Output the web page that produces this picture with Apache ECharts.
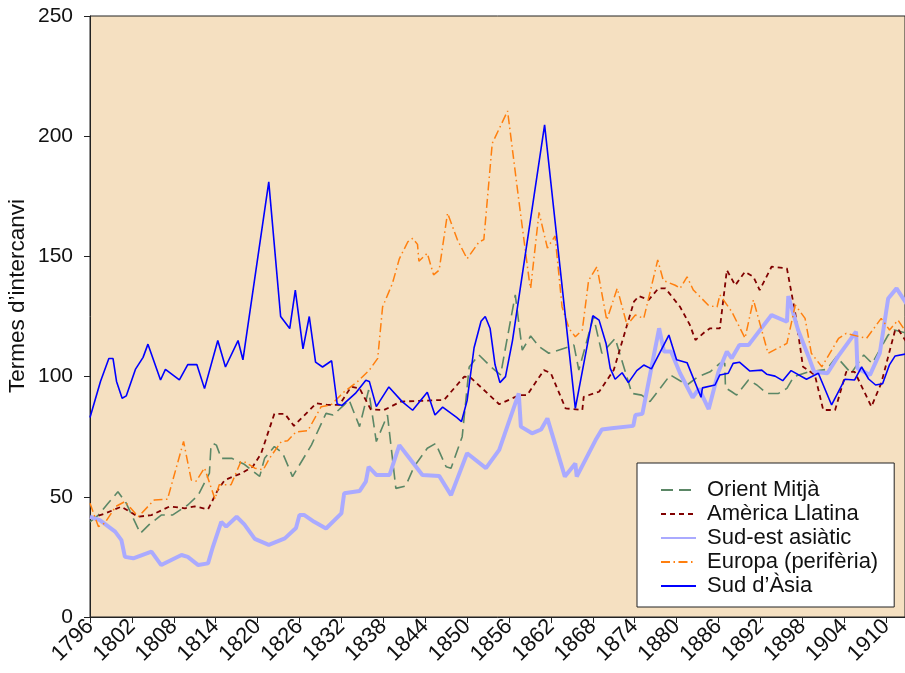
<!DOCTYPE html>
<html>
<head>
<meta charset="utf-8">
<script src="https://cdn.jsdelivr.net/npm/echarts@6/dist/echarts.min.js"></script>
<style>
html,body{margin:0;padding:0;background:#fff;}
#c{width:905px;height:673px;}
</style>
</head>
<body>
<div id="c"></div>
<script>
// ---------- DATA ----------
const xTicks = [1796,1802,1808,1814,1820,1826,1832,1838,1844,1850,1856,1862,1868,1874,1880,1886,1892,1898,1904,1910];
const yTicks = [0,50,100,150,200,250];
const yTitle = "Termes d’intercanvi";
const seriesNames = ["Orient Mitjà","Amèrica Llatina","Sud-est asiàtic","Europa (perifèria)","Sud d’Àsia"];

const orientYears = [1796,1797.2,1798.5,1800,1801.2,1803.2,1804.5,1806.2,1807.8,1810,1811.5,1813.1,1813.3,1813.6,1814.1,1814.8,1816.3,1818.1,1820.3,1821,1822.4,1823.6,1825,1827.7,1829.8,1830.8,1832.4,1833.1,1834.6,1835.9,1837,1838.6,1839.8,1841.2,1842.4,1844.3,1845.5,1847,1847.7,1849.3,1850.3,1851.7,1853.4,1854.8,1855.5,1856.9,1857.9,1859.1,1860.3,1861.7,1865.3,1866,1868.1,1869.3,1871.2,1873.6,1875,1876.2,1879.1,1881.5,1883.1,1884.8,1886.2,1886.9,1887,1887.9,1888.6,1890.3,1891.5,1892.9,1894.6,1895.8,1896.8,1898.9,1901.5,1902.9,1905,1906.8,1908,1910.3,1911.2,1913];
const orientVals  = [39.6,42.4,47,52.1,47.3,34.8,38.5,42.4,42.4,46.6,50.7,59.8,70,72.2,71.5,66,66,63.5,58.5,66,70.9,68.1,58.4,71.5,84.7,84,88.2,90.3,79.2,94.4,73,84,53.5,54.5,62.5,70.2,72.2,62.5,61.9,75,104,109,104.1,100.7,112,134,111,116.9,112.5,109.7,113.1,102.7,124.9,109.7,115.9,93,92.3,89.6,100.7,96.5,100,102,105.5,105.5,95.3,93.7,92.3,98.6,96.5,93,93,95.1,100,102,103,108.3,101.4,109,105.5,117.3,119.4,118];

const latamYears = [1796,1798.1,1800.5,1802.9,1804.8,1807.4,1809.6,1811,1812.9,1814.3,1815.3,1817.7,1819.3,1820.5,1822.4,1823.9,1825.2,1828.4,1830,1831.7,1833.4,1834.6,1836.2,1838.1,1840.5,1846.7,1849.6,1850.5,1854.6,1857.5,1858.6,1861,1862,1864.1,1866.5,1866.7,1868.9,1871,1873.9,1874.6,1876,1877.4,1878.4,1880.5,1881.9,1882.7,1884.1,1884.8,1886.2,1887.2,1888.4,1889.8,1891,1891.9,1893.6,1895.8,1897,1898.1,1899.8,1901,1902.7,1904.3,1905.5,1907.9,1909.3,1911.3,1911.8,1913];
const latamVals  = [41,43,45.9,41.7,42.4,46,45.2,46,44.8,52.8,57,59.8,62.5,68,84.5,84.5,79.5,88.9,88.2,88.2,95.8,95.1,86.4,86.1,89.6,90.3,100,99.6,88.5,92.3,92.3,102.7,101.4,86.8,86.1,91.6,93.7,102.7,131.2,133.5,131.9,136.7,136.7,129,121.5,115.2,118.7,120.1,120.1,144.3,138,143.6,141.5,136,145.7,145,126.3,104.1,100.7,86.1,86.1,102,102,87.5,97.2,119.4,119.4,114];

const seAsiaYears = [1796,1797.4,1799.6,1800.5,1801,1802.2,1804.8,1806.2,1809.1,1810,1811.5,1812.9,1813.6,1814.8,1815.5,1817,1818.1,1819.6,1821.6,1823.9,1825.5,1826,1826.7,1828.1,1829.8,1832,1832.4,1834.6,1835.5,1835.9,1837,1838.9,1840.3,1841.5,1843.6,1846,1847.7,1850,1852.7,1854.6,1857.4,1857.7,1859.3,1860.6,1861.5,1864,1865.5,1865.7,1868.4,1869.3,1870.7,1873.8,1874.1,1875.1,1877.5,1878.2,1879.2,1880.5,1882.3,1883.2,1884.6,1886,1887.2,1887.9,1889,1890.3,1893.6,1895.8,1896,1897.4,1898.9,1899.7,1901.6,1903.1,1905.7,1905.9,1907.7,1909.1,1910.3,1911.5,1913];
const seAsiaVals  = [41.7,40.3,35.5,32,25,24.4,27.2,21.6,25.8,25,21.6,22.3,29.2,39.6,37.6,41.7,38.5,32.5,30,32.7,37,42.4,42.4,39.6,36.8,43.1,51.5,52.4,56.3,62.5,59.1,59.1,71.5,67,59.1,58.7,50.7,68.1,61.9,69.5,93,79.2,76.4,78,82.6,58.4,63.9,58.4,73.6,78,78.5,79.5,84,84.5,120.1,110.4,110.4,101.4,91.3,95,86.5,102,110.4,107.6,113.1,113.1,125.6,122.8,133.5,119.4,108.3,102,101.4,108.3,118.7,103.5,100.7,109.7,132.5,136.7,130];

const europeYears = [1796,1797.2,1798.1,1799.7,1801,1802.9,1805.2,1807.1,1809.4,1810.5,1811.2,1812.4,1813.9,1814.5,1816.2,1817.6,1818.1,1819.6,1820.8,1821.7,1823.4,1824.3,1825.5,1827.2,1829.1,1830.5,1832.4,1834.3,1836,1837.2,1837.9,1839.3,1840.3,1841.5,1842.2,1842.9,1843.1,1844.3,1845.2,1846,1847.2,1848.6,1850,1851.7,1852.4,1853.6,1855.8,1857.4,1858.9,1859.1,1860.3,1861.5,1862.6,1863.6,1864.6,1865.5,1866.5,1867.4,1868.6,1870,1871.5,1872.9,1874.1,1875.3,1877.3,1878.1,1879.8,1880.5,1881.5,1882.4,1883.6,1884.6,1885.8,1886.2,1887.9,1889.8,1891,1893.1,1895.8,1897,1898.4,1899.3,1900.8,1903.2,1904.3,1907.2,1909.3,1910.5,1911.7,1913];
const europeVals  = [47.3,37.6,39,46,48,41.7,48.7,49,73,57,56.5,62,49,55,55,64.6,64.6,61.9,61.2,66,73,73.3,77,77.5,87.5,88.2,93.7,97.9,102.7,107.6,129,138.7,149,156,157.5,155,148,151.3,142.3,144.3,168,157,149,156,157,197,210.5,173.5,140,136.7,168.3,153.5,158.5,129,120,116.6,119.4,140,145.7,123.5,136.7,121.5,125.6,124.2,148.5,140,138,136.7,141.5,136,132.5,129.5,129,134,127,116,131.9,109.7,113.8,129.8,124.2,109.7,104.1,115.9,118,115.9,124.2,119.4,123.5,118];

const sAsiaYears = [1796,1797.5,1798.7,1799.3,1799.8,1800.6,1801.2,1802.5,1803.6,1804.3,1806.1,1806.8,1808.8,1810,1811.3,1812.4,1814.3,1815.4,1817.2,1817.9,1821.6,1823.3,1824.6,1825.4,1826.5,1827.4,1828.3,1829.3,1830.6,1831.4,1832.1,1834,1835.5,1836,1837,1838.8,1840.7,1842.2,1844.3,1845.4,1846.5,1848.5,1849.2,1850,1851,1852,1852.6,1853.3,1854,1854.7,1855.5,1856.5,1861.1,1865.5,1868,1868.9,1869.9,1870.5,1871.2,1872.2,1873.1,1874.3,1875.3,1876.4,1878.9,1880,1881.5,1883.5,1883.7,1885.5,1886.2,1887.4,1888.1,1889,1890.5,1892.2,1892.9,1894.1,1895.2,1896.4,1898.6,1900.3,1902.2,1904.1,1905.5,1906.5,1907.5,1908.5,1909.5,1910.5,1911.3,1913];
const sAsiaVals  = [83,98,107.5,107.5,98,91,92,103,108,113.5,98.6,103,98.6,105,105,95,115,104,115,107,181,125,120,136,111.5,125,106,104,106.6,88.6,88,93,98.5,98,87.5,95.7,89.6,86,93.5,84,87.3,83,81.3,90,112,123,125,120,105,97.5,100,115,204.7,86.8,125.3,123.5,113.8,103.4,98.9,101.6,97.5,102.5,104.8,103.2,117.3,107,105.8,91.4,95.3,96.5,100.7,101.4,105.5,106,102.3,102.7,101,100.2,98.3,102.5,98.9,101.4,88.2,98.9,98.6,104,99,96.5,97,105,108.6,109.5];

// ---------- CHART ----------
function pairs(xs, ys){ return xs.map((x,i)=>[x, ys[i]]); }
const FONT = 'Liberation Sans, Arial, sans-serif';
const chart = echarts.init(document.getElementById('c'), null, {renderer:'canvas'});

function mk(name, xs, ys, color, width, type){
  return {
    name, type:'line', data: pairs(xs, ys), showSymbol:false, symbol:'none',
    lineStyle:{color, width, type}, itemStyle:{color},
    emphasis:{disabled:true}, animation:false, z:2
  };
}

chart.setOption({
  animation:false,
  grid:{left:90, right:-2, top:16, bottom:56, show:true, backgroundColor:'#F5E0C1', borderColor:'#222', borderWidth:1},
  graphic:[{
    type:'text', x:18, y:296, rotation:Math.PI/2,
    style:{text:yTitle, fontFamily:FONT, fontSize:22.5, fill:'#111', align:'center', verticalAlign:'middle'}
  }],
  xAxis:{
    type:'value', min:1796, max:1912.71,
    axisLine:{show:true, lineStyle:{color:'#222', width:1}},
    axisTick:{show:true, customValues:xTicks, length:6, lineStyle:{color:'#222'}},
    axisLabel:{customValues:xTicks, rotate:45, margin:6, fontFamily:FONT, fontSize:22, color:'#111', formatter:v=>String(v)},
    splitLine:{show:false}
  },
  yAxis:{
    type:'value', min:yTicks[0], max:yTicks[yTicks.length-1], interval:50,
    axisLine:{show:true, lineStyle:{color:'#222', width:1}},
    axisTick:{show:true, length:6, lineStyle:{color:'#222'}},
    axisLabel:{margin:17, fontFamily:FONT, fontSize:21, color:'#111', formatter:v=>String(v)},
    splitLine:{show:false}
  },
  legend:{
    orient:'vertical', left:637, top:463,
    backgroundColor:'#fff', borderColor:'#222', borderWidth:1, borderRadius:0,
    padding:[16,16,10,23], itemWidth:35, itemHeight:16, itemGap:2,
    itemStyle:{color:'rgba(0,0,0,0)', borderColor:'rgba(0,0,0,0)', borderWidth:0, opacity:0},
    textStyle:{fontFamily:FONT, fontSize:22, color:'#111', padding:[0,0,0,6]},
    data:seriesNames
  },
  series:[
    mk(seriesNames[0], orientYears, orientVals, '#5b8766', 1.6, [12,6]),
    mk(seriesNames[1], latamYears, latamVals, '#800000', 1.8, [5,4]),
    mk(seriesNames[2], seAsiaYears, seAsiaVals, '#aaaaff', 4, 'solid'),
    mk(seriesNames[3], europeYears, europeVals, '#ff7f0e', 1.5, [9,3.5,1.5,3.5]),
    mk(seriesNames[4], sAsiaYears, sAsiaVals, '#0000ff', 1.6, 'solid')
  ]
});
</script>
</body>
</html>
